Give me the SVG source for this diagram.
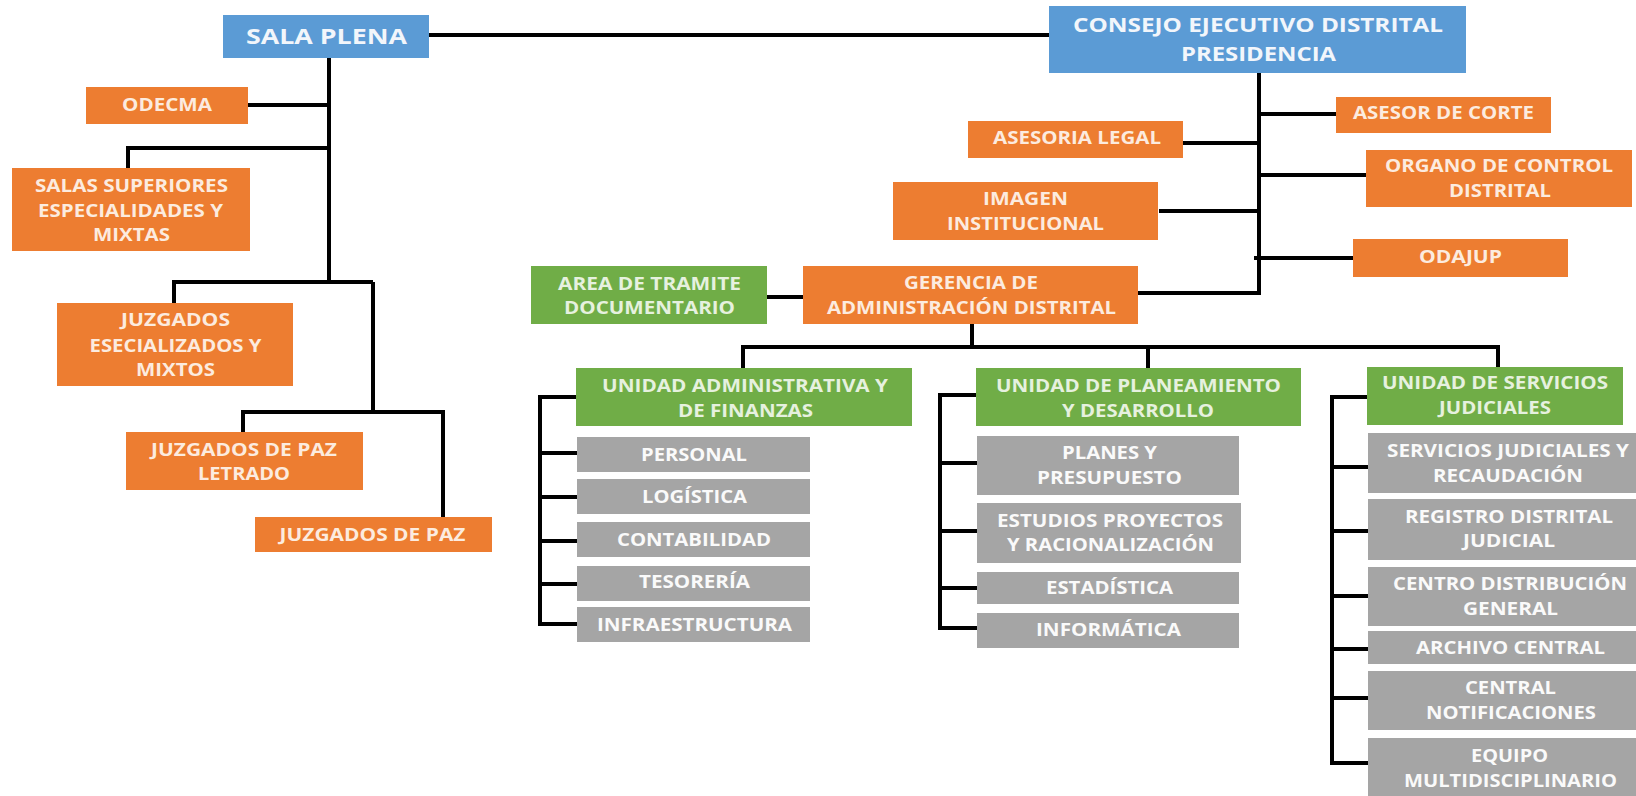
<svg xmlns="http://www.w3.org/2000/svg" width="1636" height="796" viewBox="0 0 1636 796">
<style>
  .blue{fill:#5B9BD5}
  .orange{fill:#ED7D31}
  .green{fill:#70AD47}
  .gray{fill:#A5A5A5}
  text{font-family:"Open Sans","Liberation Sans",Arial,sans-serif;font-weight:700;font-size:17px;text-anchor:middle}
  .tb{fill:#F2F6FB}
  .to{fill:#FCEBDF}
  .tg{fill:#E6F1DF}
  .tw{fill:#FAFAFA}
  .big{font-size:22px}
  .mid{font-size:20px}
  #connectors{stroke:#000;stroke-width:4;fill:none;stroke-linejoin:miter;stroke-linecap:butt}
</style>
<rect width="1636" height="796" fill="#FFFFFF"/>

<g id="connectors">
  <line x1="429" y1="35" x2="1049" y2="35"/>
  <line x1="329" y1="58" x2="329" y2="284"/>
  <line x1="248" y1="105" x2="329" y2="105"/>
  <polyline points="329,148 128,148 128,168"/>
  <polyline points="174,303 174,282 373,282"/>
  <line x1="373" y1="282" x2="373" y2="412"/>
  <polyline points="243,432 243,412 443,412 443,517"/>

  <line x1="1259" y1="73" x2="1259" y2="295"/>
  <line x1="1259" y1="114" x2="1336" y2="114"/>
  <line x1="1183" y1="143" x2="1259" y2="143"/>
  <line x1="1259" y1="175" x2="1366" y2="175"/>
  <line x1="1159" y1="211" x2="1259" y2="211"/>
  <line x1="1254" y1="258" x2="1353" y2="258"/>
  <line x1="1138" y1="293" x2="1261" y2="293"/>
  <line x1="767" y1="297" x2="803" y2="297"/>
  <line x1="972" y1="324" x2="972" y2="347"/>
  <polyline points="743,368 743,347 1498,347 1498,367"/>
  <line x1="1148" y1="347" x2="1148" y2="368"/>

  <line x1="540" y1="395" x2="540" y2="626"/>
  <line x1="540" y1="397" x2="576" y2="397"/>
  <line x1="540" y1="453" x2="577" y2="453"/>
  <line x1="540" y1="497" x2="577" y2="497"/>
  <line x1="540" y1="541" x2="577" y2="541"/>
  <line x1="540" y1="584" x2="577" y2="584"/>
  <line x1="538" y1="624" x2="577" y2="624"/>

  <line x1="940" y1="393" x2="940" y2="630"/>
  <line x1="940" y1="395" x2="976" y2="395"/>
  <line x1="940" y1="463" x2="977" y2="463"/>
  <line x1="940" y1="531" x2="977" y2="531"/>
  <line x1="940" y1="588" x2="977" y2="588"/>
  <line x1="938" y1="628" x2="977" y2="628"/>

  <line x1="1332" y1="395" x2="1332" y2="765"/>
  <line x1="1332" y1="397" x2="1367" y2="397"/>
  <line x1="1332" y1="467" x2="1368" y2="467"/>
  <line x1="1332" y1="531" x2="1368" y2="531"/>
  <line x1="1332" y1="596" x2="1368" y2="596"/>
  <line x1="1332" y1="649" x2="1368" y2="649"/>
  <line x1="1332" y1="698" x2="1368" y2="698"/>
  <line x1="1330" y1="763" x2="1368" y2="763"/>
</g>

<g id="sala-plena">
  <rect class="blue" x="223" y="15" width="206" height="43"/>
  <text class="tb big" x="326.5" y="44" textLength="161" lengthAdjust="spacingAndGlyphs">SALA PLENA</text>
</g>
<g id="consejo">
  <rect class="blue" x="1049" y="6" width="417" height="67"/>
  <text class="tb mid" x="1258" y="32" textLength="370" lengthAdjust="spacingAndGlyphs">CONSEJO EJECUTIVO DISTRITAL</text>
  <text class="tb mid" x="1258.5" y="61" textLength="155" lengthAdjust="spacingAndGlyphs">PRESIDENCIA</text>
</g>
<g id="odecma">
  <rect class="orange" x="86" y="87" width="162" height="37"/>
  <text class="to" x="167" y="111" textLength="90" lengthAdjust="spacingAndGlyphs">ODECMA</text>
</g>
<g id="salas-superiores">
  <rect class="orange" x="12" y="168" width="238" height="83"/>
  <text class="to" x="131.5" y="192" textLength="193" lengthAdjust="spacingAndGlyphs">SALAS SUPERIORES</text>
  <text class="to" x="130.5" y="217" textLength="185" lengthAdjust="spacingAndGlyphs">ESPECIALIDADES Y</text>
  <text class="to" x="131.5" y="241" textLength="77" lengthAdjust="spacingAndGlyphs">MIXTAS</text>
</g>
<g id="juzgados-especializados">
  <rect class="orange" x="57" y="303" width="236" height="83"/>
  <text class="to" x="175.5" y="326" textLength="109" lengthAdjust="spacingAndGlyphs">JUZGADOS</text>
  <text class="to" x="175.5" y="352" textLength="172" lengthAdjust="spacingAndGlyphs">ESECIALIZADOS Y</text>
  <text class="to" x="175.5" y="376" textLength="79" lengthAdjust="spacingAndGlyphs">MIXTOS</text>
</g>
<g id="juzgados-paz-letrado">
  <rect class="orange" x="126" y="432" width="237" height="58"/>
  <text class="to" x="244" y="456" textLength="186" lengthAdjust="spacingAndGlyphs">JUZGADOS DE PAZ</text>
  <text class="to" x="244" y="480" textLength="92" lengthAdjust="spacingAndGlyphs">LETRADO</text>
</g>
<g id="juzgados-paz">
  <rect class="orange" x="255" y="517" width="237" height="35"/>
  <text class="to" x="372.5" y="541" textLength="186" lengthAdjust="spacingAndGlyphs">JUZGADOS DE PAZ</text>
</g>

<g id="asesor-corte">
  <rect class="orange" x="1336" y="97" width="215" height="36"/>
  <text class="to" x="1443.5" y="119" textLength="181" lengthAdjust="spacingAndGlyphs">ASESOR DE CORTE</text>
</g>
<g id="asesoria-legal">
  <rect class="orange" x="968" y="121" width="215" height="37"/>
  <text class="to" x="1077" y="144" textLength="168" lengthAdjust="spacingAndGlyphs">ASESORIA LEGAL</text>
</g>
<g id="organo-control">
  <rect class="orange" x="1366" y="150" width="266" height="57"/>
  <text class="to" x="1499" y="172" textLength="228" lengthAdjust="spacingAndGlyphs">ORGANO DE CONTROL</text>
  <text class="to" x="1500" y="197" textLength="102" lengthAdjust="spacingAndGlyphs">DISTRITAL</text>
</g>
<g id="imagen-institucional">
  <rect class="orange" x="893" y="182" width="265" height="58"/>
  <text class="to" x="1025.5" y="205" textLength="85" lengthAdjust="spacingAndGlyphs">IMAGEN</text>
  <text class="to" x="1025.5" y="230" textLength="157" lengthAdjust="spacingAndGlyphs">INSTITUCIONAL</text>
</g>
<g id="odajup">
  <rect class="orange" x="1353" y="239" width="215" height="38"/>
  <text class="to" x="1460.5" y="263" textLength="83" lengthAdjust="spacingAndGlyphs">ODAJUP</text>
</g>
<g id="gerencia">
  <rect class="orange" x="803" y="266" width="335" height="58"/>
  <text class="to" x="971" y="289" textLength="134" lengthAdjust="spacingAndGlyphs">GERENCIA DE</text>
  <text class="to" x="971.5" y="314" textLength="289" lengthAdjust="spacingAndGlyphs">ADMINISTRACIÓN DISTRITAL</text>
</g>
<g id="area-tramite">
  <rect class="green" x="531" y="266" width="236" height="58"/>
  <text class="tg" x="649.5" y="290" textLength="183" lengthAdjust="spacingAndGlyphs">AREA DE TRAMITE</text>
  <text class="tg" x="649.5" y="314" textLength="171" lengthAdjust="spacingAndGlyphs">DOCUMENTARIO</text>
</g>

<g id="unidad-administrativa">
  <rect class="green" x="576" y="368" width="336" height="58"/>
  <text class="tg" x="745" y="392" textLength="286" lengthAdjust="spacingAndGlyphs">UNIDAD ADMINISTRATIVA Y</text>
  <text class="tg" x="745.5" y="417" textLength="135" lengthAdjust="spacingAndGlyphs">DE FINANZAS</text>
</g>
<g id="personal">
  <rect class="gray" x="577" y="437" width="233" height="35"/>
  <text class="tw" x="694" y="461" textLength="106" lengthAdjust="spacingAndGlyphs">PERSONAL</text>
</g>
<g id="logistica">
  <rect class="gray" x="577" y="479" width="233" height="35"/>
  <text class="tw" x="694.5" y="503" textLength="105" lengthAdjust="spacingAndGlyphs">LOGÍSTICA</text>
</g>
<g id="contabilidad">
  <rect class="gray" x="577" y="522" width="233" height="35"/>
  <text class="tw" x="694" y="546" textLength="154" lengthAdjust="spacingAndGlyphs">CONTABILIDAD</text>
</g>
<g id="tesoreria">
  <rect class="gray" x="577" y="566" width="233" height="35"/>
  <text class="tw" x="694.5" y="588" textLength="111" lengthAdjust="spacingAndGlyphs">TESORERÍA</text>
</g>
<g id="infraestructura">
  <rect class="gray" x="577" y="607" width="233" height="35"/>
  <text class="tw" x="694.5" y="631" textLength="195" lengthAdjust="spacingAndGlyphs">INFRAESTRUCTURA</text>
</g>

<g id="unidad-planeamiento">
  <rect class="green" x="976" y="368" width="325" height="58"/>
  <text class="tg" x="1138.5" y="392" textLength="285" lengthAdjust="spacingAndGlyphs">UNIDAD DE PLANEAMIENTO</text>
  <text class="tg" x="1138" y="417" textLength="152" lengthAdjust="spacingAndGlyphs">Y DESARROLLO</text>
</g>
<g id="planes-presupuesto">
  <rect class="gray" x="977" y="436" width="262" height="59"/>
  <text class="tw" x="1109.5" y="459" textLength="95" lengthAdjust="spacingAndGlyphs">PLANES Y</text>
  <text class="tw" x="1109.5" y="484" textLength="145" lengthAdjust="spacingAndGlyphs">PRESUPUESTO</text>
</g>
<g id="estudios-proyectos">
  <rect class="gray" x="977" y="503" width="264" height="60"/>
  <text class="tw" x="1110" y="527" textLength="226" lengthAdjust="spacingAndGlyphs">ESTUDIOS PROYECTOS</text>
  <text class="tw" x="1110.5" y="551" textLength="207" lengthAdjust="spacingAndGlyphs">Y RACIONALIZACIÓN</text>
</g>
<g id="estadistica">
  <rect class="gray" x="977" y="572" width="262" height="32"/>
  <text class="tw" x="1109.5" y="594" textLength="127" lengthAdjust="spacingAndGlyphs">ESTADÍSTICA</text>
</g>
<g id="informatica">
  <rect class="gray" x="977" y="613" width="262" height="35"/>
  <text class="tw" x="1108.5" y="636" textLength="145" lengthAdjust="spacingAndGlyphs">INFORMÁTICA</text>
</g>

<g id="unidad-servicios">
  <rect class="green" x="1367" y="367" width="256" height="58"/>
  <text class="tg" x="1495" y="389" textLength="226" lengthAdjust="spacingAndGlyphs">UNIDAD DE SERVICIOS</text>
  <text class="tg" x="1495" y="414" textLength="112" lengthAdjust="spacingAndGlyphs">JUDICIALES</text>
</g>
<g id="servicios-judiciales">
  <rect class="gray" x="1368" y="433" width="268" height="60"/>
  <text class="tw" x="1508" y="457" textLength="242" lengthAdjust="spacingAndGlyphs">SERVICIOS JUDICIALES Y</text>
  <text class="tw" x="1508" y="482" textLength="150" lengthAdjust="spacingAndGlyphs">RECAUDACIÓN</text>
</g>
<g id="registro-distrital">
  <rect class="gray" x="1368" y="499" width="268" height="61"/>
  <text class="tw" x="1509" y="523" textLength="208" lengthAdjust="spacingAndGlyphs">REGISTRO DISTRITAL</text>
  <text class="tw" x="1509" y="547" textLength="92" lengthAdjust="spacingAndGlyphs">JUDICIAL</text>
</g>
<g id="centro-distribucion">
  <rect class="gray" x="1368" y="567" width="268" height="59"/>
  <text class="tw" x="1510" y="590" textLength="234" lengthAdjust="spacingAndGlyphs">CENTRO DISTRIBUCIÓN</text>
  <text class="tw" x="1510.5" y="615" textLength="95" lengthAdjust="spacingAndGlyphs">GENERAL</text>
</g>
<g id="archivo-central">
  <rect class="gray" x="1368" y="631" width="268" height="33"/>
  <text class="tw" x="1510.5" y="654" textLength="189" lengthAdjust="spacingAndGlyphs">ARCHIVO CENTRAL</text>
</g>
<g id="central-notificaciones">
  <rect class="gray" x="1368" y="671" width="268" height="59"/>
  <text class="tw" x="1510.5" y="694" textLength="91" lengthAdjust="spacingAndGlyphs">CENTRAL</text>
  <text class="tw" x="1511" y="719" textLength="170" lengthAdjust="spacingAndGlyphs">NOTIFICACIONES</text>
</g>
<g id="equipo-multidisciplinario">
  <rect class="gray" x="1368" y="738" width="268" height="58"/>
  <text class="tw" x="1509.5" y="762" textLength="77" lengthAdjust="spacingAndGlyphs">EQUIPO</text>
  <text class="tw" x="1510.5" y="787" textLength="213" lengthAdjust="spacingAndGlyphs">MULTIDISCIPLINARIO</text>
</g>
</svg>
